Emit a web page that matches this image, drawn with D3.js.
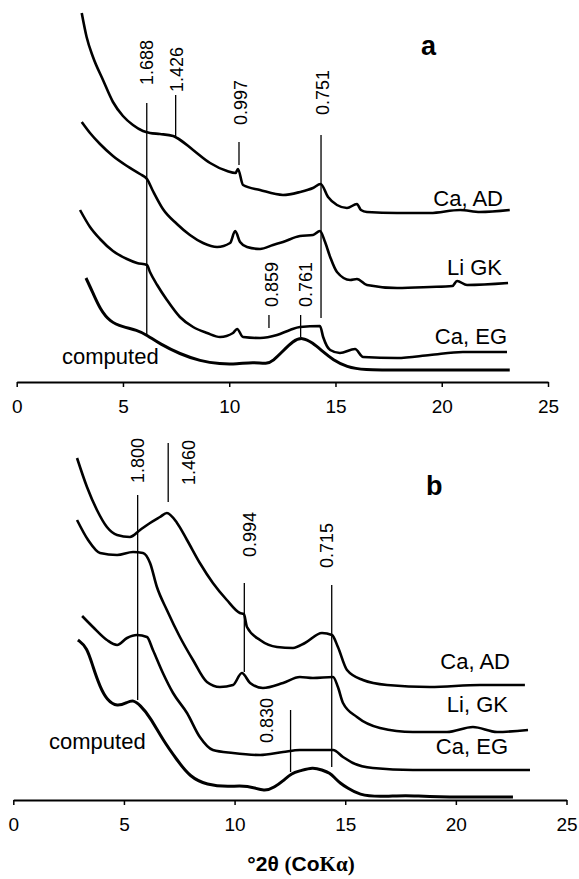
<!DOCTYPE html>
<html>
  <head>
    <script src="https://d3js.org/d3.v7.min.js"></script>
    <style>
      body { margin: 0; background: #fff; }
      .trace { fill: none; stroke: #000; stroke-width: 2.6; stroke-linejoin: round; }
      .computed { fill: none; stroke: #000; stroke-width: 3; }
      .peak { stroke: #000; stroke-width: 1.3; }
      .axis path, .axis line { stroke: #000; }
      .axis path { stroke-width: 2; }
      .axis line { stroke-width: 1.5; }
      .axis text { font-family: "Liberation Sans", Arial, sans-serif; font-size: 19px; fill: #000; }
      .lbl { font-family: "Liberation Sans", Arial, sans-serif; font-size: 22px; }
      .dlbl { font-family: "Liberation Sans", Arial, sans-serif; font-size: 18px; }
      .panel { font-family: "Liberation Sans", Arial, sans-serif; font-size: 27px; font-weight: bold; }
    </style>
  </head>
  <body>
    <svg width="579" height="879"></svg>
    <script>
      // tick values of both x axes
      var xTicks = [0, 5, 10, 15, 20, 25];

      // panel a: [°2θ, intensity]
      var aCaAD = [[3.06,369],[3.29,345],[3.59,325],[4.06,302],[4.53,280],[5.0,266],[5.47,257],[5.94,251],[6.27,249],[6.74,248],[7.36,246],[7.55,244],[8.3,232],[9.1,219],[9.9,211],[10.3,209],[10.41,213],[10.65,197],[11.45,192],[12.53,187],[13.33,190],[13.94,194],[14.3,198],[14.65,185],[15.07,177],[15.54,174],[16.01,178],[16.2,172],[16.48,170],[17.9,169],[19.45,169],[20.86,172],[21.8,170],[23.2,172]];
      var aLiGK = [[3.06,260],[3.45,249],[3.92,238],[4.53,226],[5.19,216],[5.8,208],[6.13,203],[6.41,191],[6.88,173],[7.54,158],[8.15,147],[8.77,139],[9.43,135],[10.04,139],[10.28,151],[10.51,140],[10.84,135],[11.45,133],[12.06,137],[12.53,140],[13.33,146],[13.94,147],[14.27,151],[14.51,140],[14.75,125],[15.07,110],[15.69,102],[16.01,103],[16.48,97],[17.9,94],[19.45,95],[20.5,96],[20.72,101],[21.19,97],[23.12,99]];
      var aCaEG = [[2.98,172],[3.45,155],[3.92,143],[4.53,131],[5.19,123],[5.66,119],[6.13,117],[6.27,110],[6.61,97],[7.07,82],[7.68,65],[8.3,55],[8.96,49],[9.57,45],[10.18,49],[10.37,53],[10.65,45],[11.45,44],[12.25,47],[12.86,52],[13.33,55],[14.27,56],[14.42,45],[14.75,32],[15.21,29],[15.92,33],[16.3,25],[17.9,24],[19.45,27],[21.0,30],[23.07,30]];
      var aComp = [[3.26,104],[3.59,89],[3.92,73],[4.39,60],[5.0,55],[5.66,52],[6.13,47],[6.74,38],[7.68,28],[8.63,21],[9.57,18],[10.37,18],[11.12,20],[11.78,18],[12.06,21],[12.53,31],[13.0,41],[13.43,45],[13.94,39],[14.37,31],[14.89,22],[15.54,15],[16.3,12],[18.0,12],[23.2,12]];

      // panel a peak marks: d (nm), °2θ, line top, line bottom, label foot, label shift (px)
      var aPeakD = ["1.688", "1.426", "0.997", "0.751", "0.859", "0.761"];
      var aPeakX = [6.12, 7.48, 10.46, 14.32, 11.87, 13.36];
      var aPeakTop = [279, 287, 240, 247, 67, 67];
      var aPeakBot = [46, 245, 217, 64, 54, 45];
      var aPeakLab = [297, 290, 257, 267, 75, 75];
      var aPeakShift = [0, 1, 2, 1, 3, 5];

      // panel b
      var bCaAD = [[2.88,342],[3.33,313],[3.78,290],[4.23,273],[4.69,265],[5.27,263],[5.73,270],[6.18,277],[6.63,283],[6.94,287],[7.4,277],[7.85,260],[8.43,237],[9.02,217],[9.65,200],[10.24,187],[10.42,186],[10.56,173],[11.15,160],[11.92,153],[12.64,152],[13.18,157],[13.95,167],[14.4,165],[14.67,153],[15.08,130],[15.8,120],[16.89,115],[18.83,113],[21.09,115],[23.12,115]];
      var bLiGK = [[2.88,280],[3.38,260],[3.92,247],[4.69,245],[5.41,248],[5.86,247],[6.18,237],[6.49,213],[6.94,190],[7.53,163],[8.12,140],[8.75,118],[9.34,113],[9.93,115],[10.33,127],[10.7,117],[11.28,112],[12.19,117],[12.95,123],[13.54,122],[14.45,123],[14.67,113],[14.9,97],[15.53,83],[16.57,72],[18.06,68],[19.6,68],[20.77,73],[21.86,68],[23.26,70]];
      var bCaEG = [[3.11,184],[3.6,173],[4.23,160],[4.69,155],[5.14,162],[5.59,165],[6.04,163],[6.31,150],[6.76,127],[7.22,107],[7.85,87],[8.43,63],[9.02,50],[9.93,47],[11.15,45],[12.19,48],[12.95,50],[14.45,50],[14.9,43],[15.35,37],[16.25,32],[18.06,30],[20.32,30],[23.35,30]];
      var bComp = [[2.92,160],[3.33,153],[3.6,133],[3.92,113],[4.23,100],[4.69,93],[5.18,98],[5.41,100],[5.73,95],[6.18,83],[6.76,60],[7.4,40],[7.98,23],[8.75,15],[9.7,13],[10.6,15],[11.37,8],[11.82,13],[12.19,19],[12.59,27],[12.95,29],[13.54,33],[13.95,30],[14.31,27],[14.53,22],[14.76,17],[15.1,12],[15.63,5],[16.53,3],[17.76,5],[18.8,3],[22.58,3]];

      var bPeakD = ["1.800", "1.460", "0.994", "0.715", "0.830"];
      var bPeakX = [5.62, 7.0, 10.44, 14.39, 12.53];
      var bPeakTop = [305, 357, 217, 215, 90];
      var bPeakBot = [100, 298, 128, 33, 28];
      var bPeakLab = [317, 315, 243, 232, 57];
      var bPeakShift = [0, 20, 5, -5, -24];

      var svg = d3.select("svg");
      svg.append("rect").attr("width", 579).attr("height", 879).attr("fill", "#fff");

      function panel(o) {
        var x = d3.scaleLinear().domain([0, 25]).range(o.xr);
        var y = d3.scaleLinear().domain([0, 370]).range([o.base, o.base - 370]);
        var g = svg.append("g");
        var line = d3.line().x(function(d) { return x(d[0]); }).y(function(d) { return y(d[1]); })
          .curve(d3.curveMonotoneX);

        o.traces.forEach(function(t) {
          g.append("path").attr("class", "trace").attr("d", line(t));
        });
        g.append("path").attr("class", "computed").attr("d", line.curve(d3.curveBasis)(o.comp));

        o.peakD.forEach(function(d, i) {
          var px = x(o.peakX[i]);
          g.append("line").attr("class", "peak")
            .attr("x1", px).attr("x2", px)
            .attr("y1", y(o.peakTop[i])).attr("y2", y(o.peakBot[i]));
          g.append("text").attr("class", "dlbl")
            .attr("transform", "translate(" + (px + o.peakShift[i]) + "," + y(o.peakLab[i]) + ") rotate(-90)")
            .attr("dy", "0.36em")
            .text(d);
        });

        g.append("g").attr("class", "axis")
          .attr("transform", "translate(0," + o.base + ")")
          .call(d3.axisBottom(x).tickValues(xTicks).tickSize(5).tickSizeOuter(0).tickPadding(13));

        o.labels.forEach(function(l) {
          g.append("text").attr("class", "lbl")
            .attr("x", l[1]).attr("y", l[2])
            .attr("text-anchor", l[3] || "end")
            .text(l[0]);
        });
        g.append("text").attr("class", "panel")
          .attr("x", o.tag[1]).attr("y", o.tag[2]).text(o.tag[0]);
      }

      panel({
        xr: [16.7, 548], base: 382,
        traces: [aCaAD, aLiGK, aCaEG], comp: aComp,
        peakD: aPeakD, peakX: aPeakX, peakTop: aPeakTop, peakBot: aPeakBot,
        peakLab: aPeakLab, peakShift: aPeakShift,
        labels: [["Ca, AD", 503, 206], ["Li GK", 502, 275], ["Ca, EG", 507, 344], ["computed", 62, 364, "start"]],
        tag: ["a", 421, 55]
      });

      panel({
        xr: [13.3, 566.5], base: 800,
        traces: [bCaAD, bLiGK, bCaEG], comp: bComp,
        peakD: bPeakD, peakX: bPeakX, peakTop: bPeakTop, peakBot: bPeakBot,
        peakLab: bPeakLab, peakShift: bPeakShift,
        labels: [["Ca, AD", 510, 669], ["Li, GK", 508, 712], ["Ca, EG", 508, 754], ["computed", 49, 749, "start"]],
        tag: ["b", 426, 495]
      });

      // x title
      var title = svg.append("text").attr("x", 301).attr("y", 871)
        .attr("text-anchor", "middle").attr("font-weight", "bold").attr("font-size", 21)
        .attr("font-family", "Liberation Sans, Arial, sans-serif");
      title.append("tspan").text("°2θ ");
      title.append("tspan").attr("font-family", "Liberation Serif, serif").text("(");
      title.append("tspan").text("Co");
      title.append("tspan").attr("font-family", "Liberation Serif, serif").text("Kα)");
    </script>
  </body>
</html>
